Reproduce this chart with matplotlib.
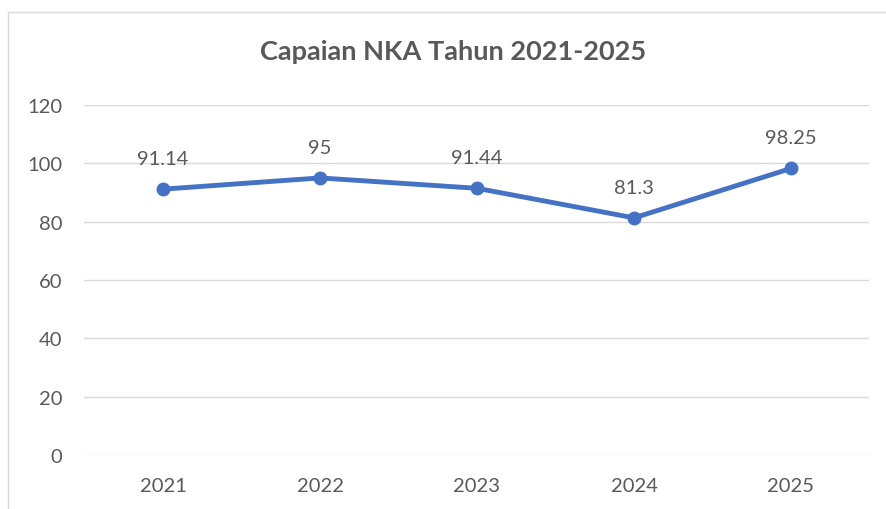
import matplotlib.pyplot as plt
from matplotlib.patches import Rectangle

plt.rcParams['font.family'] = ['Lato', 'DejaVu Sans']

years = ["2021", "2022", "2023", "2024", "2025"]
nka = [91.14, 95, 91.44, 81.3, 98.25]
labels = ["91.14", "95", "91.44", "81.3", "98.25"]

text_color = "#595959"
line_color = "#4472C4"
grid_color = "#D9D9D9"

fig = plt.figure(figsize=(8.87, 5.10), dpi=100)
ax = fig.add_axes([84.5 / 887, 1 - 456 / 510, 785 / 887, 350 / 510])

# chart border
fig.patches.append(Rectangle((8 / 887, -0.1), 1.0, 1 - 13 / 510 + 0.1,
                             transform=fig.transFigure, fill=False,
                             edgecolor=grid_color, linewidth=1))

x = list(range(len(years)))
ax.plot(x, nka, color=line_color, linewidth=3.5, marker="o", markersize=9,
        solid_capstyle="round", zorder=3)

for xi, v, lab in zip(x, nka, labels):
    ax.annotate(lab, (xi, v), xytext=(0, 16), textcoords="offset points",
                ha="center", va="bottom", fontsize=14.5, color=text_color)

ax.set_xlim(-0.5, 4.5)
ax.set_ylim(0, 120)
ax.set_yticks(range(0, 121, 20))
ax.set_xticks(x)
ax.set_xticklabels(years)
ax.grid(axis="y", color=grid_color, linewidth=1)
ax.set_axisbelow(True)
for s in ax.spines.values():
    s.set_visible(False)
ax.tick_params(length=0, labelsize=14.5, labelcolor=text_color)
ax.tick_params(axis="y", pad=16)
ax.tick_params(axis="x", pad=16)

fig.text(453 / 887, 1 - 52 / 510, "Capaian NKA Tahun 2021-2025", ha="center",
         va="center", fontsize=19.5, fontweight="bold", color=text_color)

fig.savefig("out.png", dpi=100)
